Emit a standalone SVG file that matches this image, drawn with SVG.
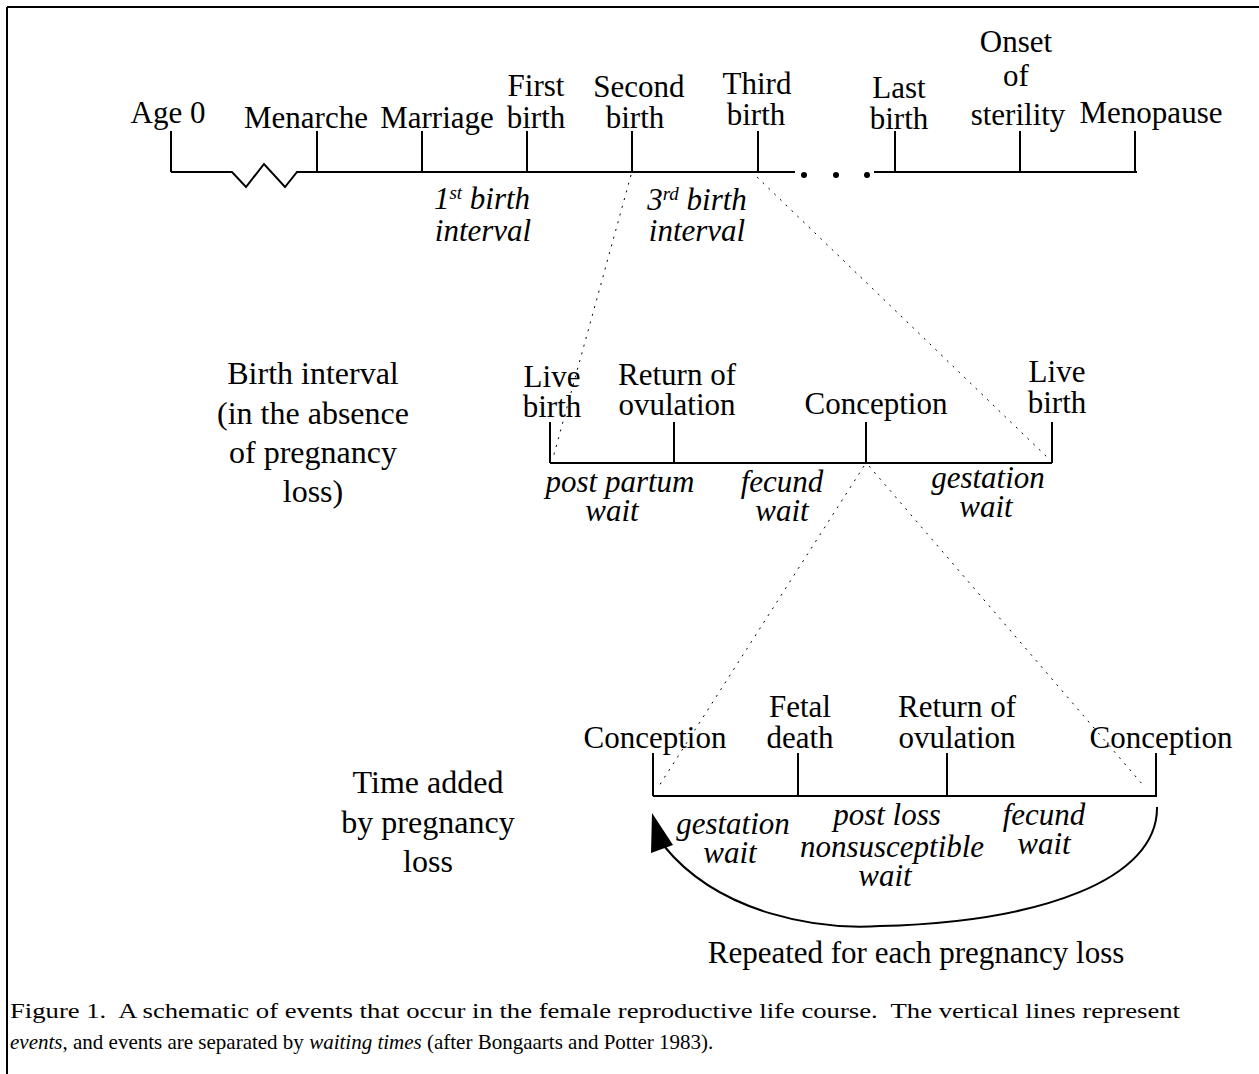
<svg xmlns="http://www.w3.org/2000/svg" width="1259" height="1074" viewBox="0 0 1259 1074">
<style>
.t{font-family:"Liberation Serif","Times New Roman",serif;font-size:31px;fill:#000;text-anchor:middle}
.i{font-family:"Liberation Serif","Times New Roman",serif;font-size:31px;font-style:italic;fill:#000;text-anchor:middle}
.s{font-size:19px}
.big{font-size:32px}
.cap{font-family:"Liberation Serif","Times New Roman",serif;font-size:21px;fill:#000;white-space:pre}
.ln{stroke:#000;stroke-width:2;fill:none}
.dot{stroke:#000;stroke-width:1;fill:none;stroke-dasharray:2 6}
</style>
<rect width="1259" height="1074" fill="#fff"/>
<g id="frame">
<path class="ln" d="M7,7 H1259 M7,7 V1074"/>
</g>
<g id="timeline-top">
<path class="ln" d="M171,172 H232 L246,187 L264,164 L285,187 L297,172 H795 M874,172 H1137"/>
<path class="ln" d="M171,131 V172 M317,131 V172 M422,131 V172 M527,131 V172 M632,131 V172 M758,131 V172 M895,131 V172 M1020,131 V172 M1135,131 V172"/>
<circle cx="804" cy="175" r="3"/><circle cx="836" cy="175" r="3"/><circle cx="867" cy="175" r="3"/>
</g>
<g id="n-age0"><text class="t" x="168" y="123">Age 0</text></g>
<g id="n-menarche"><text class="t" x="306" y="128">Menarche</text></g>
<g id="n-marriage"><text class="t" x="437" y="128">Marriage</text></g>
<g id="n-first"><text class="t" y="96"><tspan x="536">First</tspan><tspan x="536" dy="32">birth</tspan></text></g>
<g id="n-second"><text class="t" y="97"><tspan x="639">Second</tspan><tspan x="635" dy="31">birth</tspan></text></g>
<g id="n-third"><text class="t" y="94"><tspan x="757">Third</tspan><tspan x="756" dy="31">birth</tspan></text></g>
<g id="n-last"><text class="t" y="98"><tspan x="899">Last</tspan><tspan x="899" dy="31">birth</tspan></text></g>
<g id="n-onset"><text class="t" y="52"><tspan x="1016">Onset</tspan><tspan x="1016" dy="34">of</tspan><tspan x="1018" dy="39">sterility</tspan></text></g>
<g id="n-menopause"><text class="t" x="1151" y="123">Menopause</text></g>
<g id="l-first-interval"><text class="i" y="209"><tspan x="482">1<tspan class="s" dy="-10">st</tspan><tspan dy="10"> birth</tspan></tspan><tspan x="483" dy="32">interval</tspan></text></g>
<g id="l-third-interval"><text class="i" y="210"><tspan x="697">3<tspan class="s" dy="-10">rd</tspan><tspan dy="10"> birth</tspan></tspan><tspan x="697" dy="31">interval</tspan></text></g>

<g id="l-birth-interval">
<text class="t big" y="384"><tspan x="313">Birth interval</tspan><tspan x="313" dy="40">(in the absence</tspan><tspan x="313" dy="39">of pregnancy</tspan><tspan x="313" dy="39">loss)</tspan></text>
</g>
<g id="timeline-mid">
<path class="ln" d="M550,463 H1052 M550,422 V463 M674,422 V463 M866,422 V463 M1052,422 V463"/>
</g>
<g id="n-live1"><text class="t" y="387"><tspan x="552">Live</tspan><tspan x="552" dy="30">birth</tspan></text></g>
<g id="n-return1"><text class="t" y="385"><tspan x="677">Return of</tspan><tspan x="677" dy="30">ovulation</tspan></text></g>
<g id="n-conception1"><text class="t" x="876" y="414">Conception</text></g>
<g id="n-live2"><text class="t" y="382"><tspan x="1057">Live</tspan><tspan x="1057" dy="31">birth</tspan></text></g>
<g id="l-mid-waits">
<text class="i" y="492"><tspan x="620">post partum</tspan><tspan x="612" dy="29">wait</tspan></text>
<text class="i" y="492"><tspan x="782">fecund</tspan><tspan x="782" dy="29">wait</tspan></text>
<text class="i" y="488"><tspan x="988">gestation</tspan><tspan x="986" dy="29">wait</tspan></text>
</g>

<g id="l-time-added">
<text class="t big" y="793"><tspan x="428">Time added</tspan><tspan x="428" dy="40">by pregnancy</tspan><tspan x="428" dy="39">loss</tspan></text>
</g>
<g id="timeline-bot">
<path class="ln" d="M653,796 H1157 M653,753 V796 M798,753 V796 M947,753 V796 M1156,753 V796"/>
</g>
<g id="n-conception2"><text class="t" x="655" y="748">Conception</text></g>
<g id="n-fetal"><text class="t" y="717"><tspan x="800">Fetal</tspan><tspan x="800" dy="31">death</tspan></text></g>
<g id="n-return2"><text class="t" y="717"><tspan x="957">Return of</tspan><tspan x="957" dy="31">ovulation</tspan></text></g>
<g id="n-conception3"><text class="t" x="1161" y="748">Conception</text></g>
<g id="l-bot-waits">
<text class="i" y="834"><tspan x="733">gestation</tspan><tspan x="730" dy="29">wait</tspan></text>
<text class="i" y="825"><tspan x="887">post loss</tspan><tspan x="892" dy="32">nonsusceptible</tspan><tspan x="885" dy="29">wait</tspan></text>
<text class="i" y="825"><tspan x="1044">fecund</tspan><tspan x="1044" dy="29">wait</tspan></text>
</g>
<g id="l-repeated"><text class="t" x="916" y="963">Repeated for each pregnancy loss</text></g>

<g id="connectors">
<path class="dot" d="M631,175 L553,458"/>
<path class="dot" d="M757,177 L1048,458"/>
<path class="dot" d="M864,466 L659,786"/>
<path class="dot" d="M869,466 L1143,785"/>
<path class="ln" d="M1157,807 C1158,880 1040,922 880,926 C820,930 720,915 664,846"/>
<polygon points="652,813 651,853 673,845" fill="#000"/>
</g>

<g id="caption">
<text class="cap" x="10" y="1018" textLength="1170" lengthAdjust="spacingAndGlyphs">Figure 1.  A schematic of events that occur in the female reproductive life course.  The vertical lines represent</text>
<text class="cap" x="10" y="1049"><tspan font-style="italic">events</tspan>, and events are separated by <tspan font-style="italic">waiting times</tspan> (after Bongaarts and Potter 1983).</text>
</g>
</svg>
